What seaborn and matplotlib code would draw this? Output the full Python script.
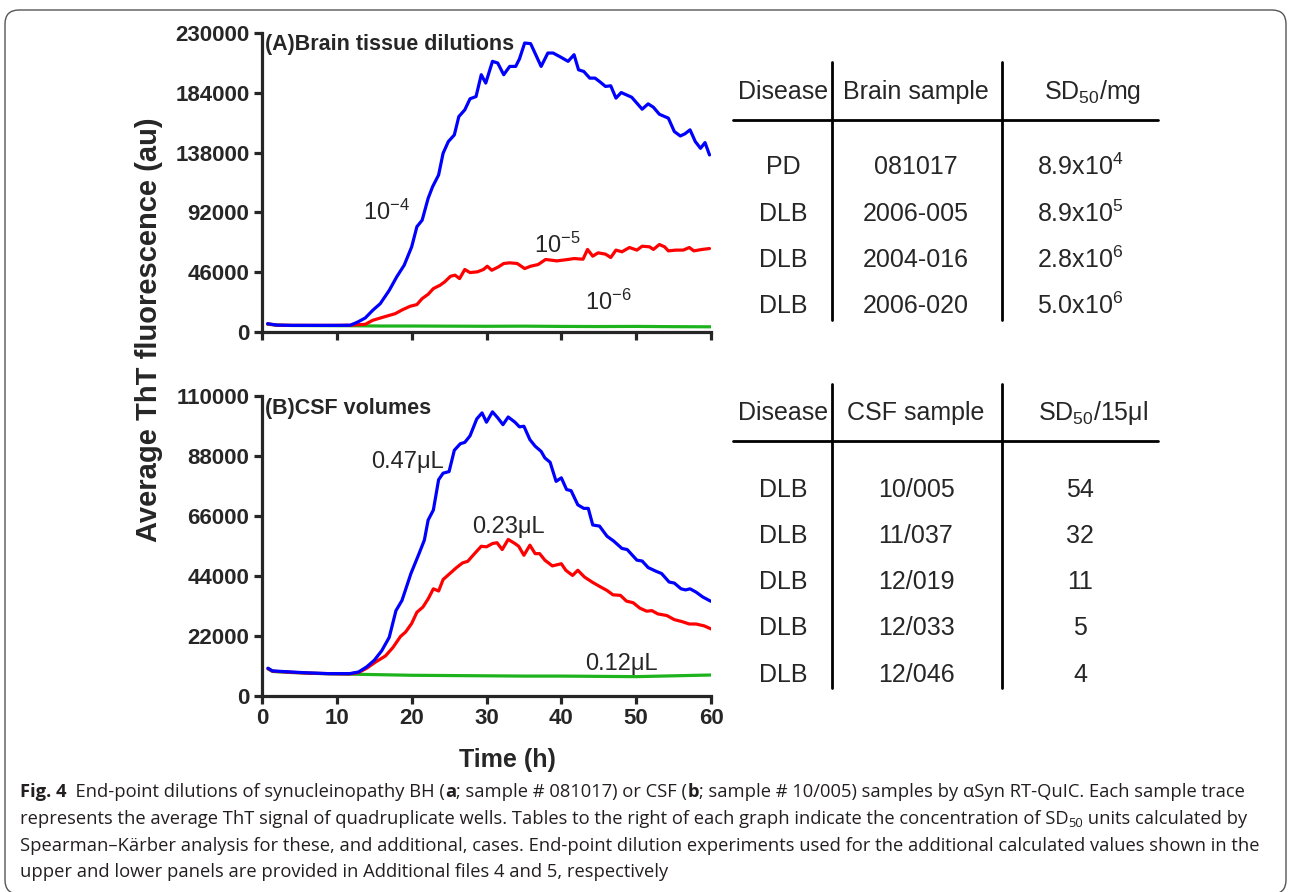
import pandas as pd
import matplotlib
matplotlib.use("Agg")
import matplotlib.pyplot as plt
import seaborn as sns
from matplotlib.patches import FancyBboxPatch
from matplotlib.lines import Line2D

# --- values (time in h, ThT signal in au) ---
# (A) brain tissue dilutions
tA_blue = [0.75, 2, 4, 6, 8, 10, 11.8, 12.8, 13.8, 14.8,
           15.8, 17, 18, 19, 20, 20.7, 21.4, 22.2, 22.8, 23.6,
           24.2, 24.9, 25.7, 26.3, 27.1, 27.8, 28.6, 29.3, 29.9, 30.8,
           31.5, 32.3, 33.1, 33.9, 34.4, 35.1, 35.9, 37.3, 38.2, 38.9,
           39.9, 40.9, 41.7, 42.3, 43, 43.8, 44.5, 45.1, 45.9, 46.6,
           47.3, 48, 49.4, 50.8, 51.6, 52.3, 53.1, 54.3, 55.1, 55.9,
           56.5, 57.2, 57.9, 58.6, 59.2, 59.8]
vA_blue = [6400, 5300, 5100, 5100, 5100, 5100, 5200, 7700, 10800, 16700,
           21800, 32000, 42400, 51400, 65500, 81000, 86000, 102800, 111800, 120800,
           137500, 146500, 151600, 165700, 170900, 179400, 181100, 197900, 191500, 208200,
           206900, 197900, 204300, 204300, 210000, 222300, 221800, 204300, 214600, 214600,
           211500, 208200, 213300, 201700, 200400, 195300, 195300, 192700, 188900, 189400,
           179900, 184200, 180600, 171400, 175500, 172900, 167500, 164500, 154200, 150800,
           152400, 155500, 146500, 141300, 145700, 136200]

tA_red = [0.75, 2, 4, 6, 8, 10, 11.8, 12.8, 13.8, 14.8,
          16.3, 17.8, 18.8, 19.8, 20.7, 21.4, 22.2, 22.9, 23.8, 24.4,
          25.2, 25.8, 26.4, 27.1, 27.8, 28.8, 29.6, 30.1, 30.7, 31.6,
          32.3, 33.1, 34.1, 35.1, 35.9, 36.9, 37.9, 39.4, 40.9, 41.7,
          42.9, 43.5, 44.2, 44.9, 45.9, 46.6, 47.3, 48.1, 49.1, 50.1,
          50.8, 51.8, 52.3, 53.1, 53.8, 54.3, 55.3, 56.3, 57.1, 57.7,
          58.8, 59.8]
vA_red = [6200, 5300, 5100, 5100, 5100, 5100, 5200, 5600, 5900, 9000,
          11600, 14100, 17200, 19800, 21100, 25700, 29000, 33400, 36000, 38500,
          42900, 43700, 41100, 48100, 45700, 46300, 48100, 50600, 47500, 50100,
          52700, 53200, 52700, 48800, 50600, 51900, 55800, 54700, 55800, 56500,
          56000, 63500, 58300, 60900, 59900, 57300, 63000, 61700, 65000, 63000,
          66000, 65500, 63500, 67300, 65500, 62400, 63000, 63000, 65000, 62400,
          63500, 64200]

tA_green = [0.75, 2, 4, 8, 12, 16, 20, 25, 30, 35, 40, 45, 50, 55, 60]
vA_green = [6000, 5200, 5000, 4900, 4800, 4600, 4600, 4500, 4400, 4500, 4300, 4200, 4300, 4100, 4000]

# (B) CSF volumes
tB_blue = [0.8, 1.4, 3.9, 6, 8.9, 11.7, 12.9, 14, 15, 16,
           17, 17.9, 18.7, 19.9, 21, 21.7, 22.2, 22.9, 23.6, 24.2,
           25, 25.7, 26.5, 27.1, 27.8, 28.7, 29.4, 30, 30.8, 31.5,
           32.2, 32.9, 33.8, 34.4, 35, 35.8, 36.5, 37.3, 37.8, 38.5,
           39.3, 40, 40.7, 41.3, 42.2, 43, 43.6, 44.2, 45.1, 46.1,
           47, 48.1, 48.8, 50.1, 50.8, 51.6, 52.6, 53.4, 54.4, 55.1,
           56, 56.6, 57.2, 58, 58.9, 60]
vB_blue = [10200, 9200, 8800, 8500, 8200, 8200, 8800, 10700, 13100, 16600,
           21500, 31300, 35000, 44900, 52300, 57200, 64500, 68200, 79300, 81700,
           82300, 90100, 92500, 93000, 95400, 101600, 103800, 100400, 104200, 102000,
           99500, 102300, 100400, 98700, 98900, 94000, 91600, 89700, 87300, 85700,
           78700, 80000, 75700, 75300, 70100, 68800, 68800, 62700, 62300, 58600,
           56800, 54100, 53700, 49800, 49500, 47100, 45800, 44900, 41800, 41400,
           39300, 38900, 39300, 38100, 36300, 34700]

tB_red = [0.8, 1.4, 3.9, 6, 8.9, 11.7, 12.9, 14, 15.2, 16.5,
          17.5, 18.5, 19.2, 20, 20.7, 21.5, 22.2, 22.9, 23.6, 24.2,
          25.1, 26, 26.8, 27.5, 28.4, 29.3, 30, 30.8, 31.4, 32.1,
          32.9, 33.8, 34.3, 35, 35.8, 36.5, 37.1, 37.8, 38.8, 40,
          40.6, 41.5, 42.2, 43.1, 44.1, 45.1, 46.1, 46.9, 47.9, 48.7,
          49.6, 50.5, 51.4, 52.1, 52.9, 54.1, 55.1, 56.1, 57.1, 58,
          59.1, 60]
vB_red = [10000, 9100, 8700, 8400, 8200, 8100, 8600, 10200, 12500, 14700,
          17800, 21800, 23500, 26600, 30700, 32600, 35600, 39300, 38500, 42700,
          44900, 47100, 48800, 49400, 52200, 54900, 54700, 55900, 56200, 53700,
          57400, 55900, 54900, 51600, 55300, 52200, 52200, 49800, 47700, 48500,
          46100, 44200, 46100, 43600, 41800, 40200, 38700, 37100, 36900, 34800,
          34200, 32200, 31100, 31300, 30100, 29500, 28000, 27300, 26400, 26400,
          25700, 24600]

tB_green = [0.8, 1.4, 4, 8, 12, 16, 20, 25, 30, 35, 40, 45, 50, 55, 60]
vB_green = [10000, 9000, 8600, 8200, 8000, 7800, 7600, 7500, 7400, 7300, 7300, 7200, 7100, 7400, 7700]

yticks_A = [0, 46000, 92000, 138000, 184000, 230000]
yticks_B = [0, 22000, 44000, 66000, 88000, 110000]
xticks = [0, 10, 20, 30, 40, 50, 60]

labels_A = ['10$^{-6}$', '10$^{-5}$', '10$^{-4}$']
labels_B = ['0.12μL', '0.23μL', '0.47μL']

table_A_header = ['Disease', 'Brain sample', 'SD$_{50}$/mg']
table_A_disease = ['PD', 'DLB', 'DLB', 'DLB']
table_A_sample = ['081017', '2006-005', '2004-016', '2006-020']
table_A_sd50 = ['8.9x10$^{4}$', '8.9x10$^{5}$', '2.8x10$^{6}$', '5.0x10$^{6}$']

table_B_header = ['Disease', 'CSF sample', 'SD$_{50}$/15μl']
table_B_disease = ['DLB', 'DLB', 'DLB', 'DLB', 'DLB']
table_B_sample = ['10/005', '11/037', '12/019', '12/033', '12/046']
table_B_sd50 = ['54', '32', '11', '5', '4']

colors = ['#1db31d', '#ff0000', '#0000ff']  # green, red, blue

# --- style ---
sns.set_style("ticks")
plt.rcParams['font.family'] = ['Liberation Sans', 'DejaVu Sans']
plt.rcParams['mathtext.fontset'] = 'custom'
plt.rcParams['mathtext.rm'] = 'Liberation Sans'
plt.rcParams['mathtext.it'] = 'Liberation Sans:italic'
plt.rcParams['mathtext.bf'] = 'Liberation Sans:bold'

W, H = 1290, 892
fig = plt.figure(figsize=(W / 100, H / 100), dpi=100)


def fx(px):
    return px / W


def fy(py):
    return 1 - py / H


axA = fig.add_axes([fx(262), fy(332), fx(711) - fx(262), fy(33) - fy(332)])
axB = fig.add_axes([fx(262), fy(696), fx(711) - fx(262), fy(396) - fy(696)])


def long_df(parts):
    frames = [pd.DataFrame({'time': t, 'signal': v, 'series': name}) for name, t, v in parts]
    return pd.concat(frames, ignore_index=True)


dfA = long_df([(labels_A[0], tA_green, vA_green),
               (labels_A[1], tA_red, vA_red),
               (labels_A[2], tA_blue, vA_blue)])
dfB = long_df([(labels_B[0], tB_green, vB_green),
               (labels_B[1], tB_red, vB_red),
               (labels_B[2], tB_blue, vB_blue)])

sns.lineplot(data=dfA, x='time', y='signal', hue='series', hue_order=labels_A,
             palette=colors, estimator=None, linewidth=2.3, legend=False, ax=axA)
sns.lineplot(data=dfB, x='time', y='signal', hue='series', hue_order=labels_B,
             palette=colors, estimator=None, linewidth=2.3, legend=False, ax=axB)

for ax, yt in ((axA, yticks_A), (axB, yticks_B)):
    sns.despine(ax=ax)
    for s in ('left', 'bottom'):
        ax.spines[s].set_linewidth(2.3)
    ax.set_xlim(0, 60)
    ax.set_ylim(0, yt[-1])
    ax.set_xticks(xticks)
    ax.set_yticks(yt)
    ax.set_yticklabels([str(v) for v in yt], fontsize=16, fontweight='bold')
    ax.set_xticklabels([str(v) for v in xticks], fontsize=16, fontweight='bold')
    ax.tick_params(width=2.3, length=6, direction='out', pad=3)
    ax.set_xlabel('')
    ax.set_ylabel('')
axA.set_xticklabels([])

axA.text(0.007, 0.96, '(A)Brain tissue dilutions', transform=axA.transAxes,
         fontsize=15.5, fontweight='bold', va='center')
axB.text(0.007, 0.957, '(B)CSF volumes', transform=axB.transAxes,
         fontsize=15.5, fontweight='bold', va='center')

# curve labels
axA.text(13.5, 92000, labels_A[2], fontsize=17, va='center')
axA.text(36.4, 66700, labels_A[1], fontsize=17, va='center')
axA.text(43.2, 23000, labels_A[0], fontsize=17, va='center')
axB.text(14.6, 85800, labels_B[2], fontsize=17, va='center')
axB.text(28.1, 62000, labels_B[1], fontsize=17, va='center')
axB.text(43.2, 11700, labels_B[0], fontsize=17, va='center')

fig.text(fx(149), fy(330), 'Average ThT fluorescence (au)', rotation=90,
         fontsize=21, fontweight='bold', ha='center', va='center')
fig.text(fx(507), fy(760), 'Time (h)', fontsize=18, fontweight='bold',
         ha='center', va='center')


# --- tables ---
def draw_table(header, cols, y_header, y_rows, y_line, y_top, y_bottom):
    xc = [783, 916, 1080]
    xh = [783, 916, 1093]
    for x, h in zip(xh, header):
        fig.text(fx(x), fy(y_header), h, fontsize=18, ha='center', va='center')
    for x, col in zip(xc, cols):
        for y, val in zip(y_rows, col):
            fig.text(fx(x), fy(y), val, fontsize=18, ha='center', va='center')
    fig.add_artist(Line2D([fx(733), fx(1158)], [fy(y_line), fy(y_line)],
                          color='black', lw=2))
    for x in (832, 1002):
        fig.add_artist(Line2D([fx(x), fx(x)], [fy(y_top), fy(y_bottom)],
                              color='black', lw=2))


draw_table(table_A_header, [table_A_disease, table_A_sample, table_A_sd50],
           92, [167, 214, 260, 306], 120, 62, 320)
draw_table(table_B_header, [table_B_disease, table_B_sample, table_B_sd50],
           413, [490, 536, 582, 628, 675], 441, 384, 688)

# --- caption ---
renderer = fig.canvas.get_renderer()
cap_size = 13.2


def caption_line(x_px, y_px, segs):
    x = x_px
    for txt, weight, size, dy in segs:
        t = fig.text(fx(x), fy(y_px + dy), txt, fontsize=size, fontweight=weight,
                     family=['Open Sans', 'DejaVu Sans'], va='baseline', color='#231f20')
        x += t.get_window_extent(renderer).width


n, b = 'normal', 'bold'
caption_line(20, 797, [('Fig. 4', b, cap_size, 0),
                       ('  End-point dilutions of synucleinopathy BH (', n, cap_size, 0),
                       ('a', b, cap_size, 0),
                       ('; sample # 081017) or CSF (', n, cap_size, 0),
                       ('b', b, cap_size, 0),
                       ('; sample # 10/005) samples by αSyn RT-QuIC. Each sample trace', n, cap_size, 0)])
caption_line(20, 824, [('represents the average ThT signal of quadruplicate wells. Tables to the right '
                        'of each graph indicate the concentration of SD', n, cap_size, 0),
                       ('50', n, cap_size * 0.7, 3),
                       (' units calculated by', n, cap_size, 0)])
caption_line(20, 851, [('Spearman–Kärber analysis for these, and additional, cases. End-point dilution '
                        'experiments used for the additional calculated values shown in the', n, cap_size, 0)])
caption_line(20, 877, [('upper and lower panels are provided in Additional files 4 and 5, respectively',
                        n, cap_size, 0)])

# rounded frame around the figure
frame = FancyBboxPatch((5, -2), 1281, 884, boxstyle='round,pad=0,rounding_size=14',
                       transform=None, fill=False, ec='#555555', lw=1.0)
fig.add_artist(frame)

fig.savefig('out.png', dpi=100)
